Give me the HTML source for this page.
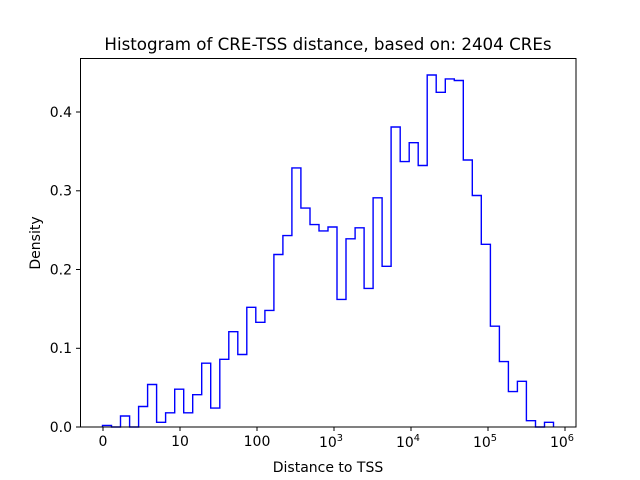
<!DOCTYPE html>
<html><head><meta charset="utf-8"><style>body{margin:0;background:#fff}svg{display:block}text{font-family:"DejaVu Sans","Liberation Sans",sans-serif;fill:#000}</style></head>
<body>
<svg width="640" height="480" viewBox="0 0 640 480" xmlns="http://www.w3.org/2000/svg">
<rect width="640" height="480" fill="#fff"/>
<path d="M102.5 427 V425.4 H111.5 V427 H120.5 V416 H129.6 V427 H138.6 V406.5 H147.6 V384.5 H156.6 V422.3 H165.6 V412.8 H174.7 V389.2 H183.7 V412.8 H192.7 V394.7 H201.7 V363.2 H210.7 V408.1 H219.8 V359.3 H228.8 V331.7 H237.8 V354.5 H246.8 V307.3 H255.8 V322.3 H264.9 V310.4 H273.9 V254.5 H282.9 V235.6 H291.9 V167.9 H300.9 V208.1 H310 V224.6 H319 V230.9 H328 V227 H337 V299.4 H346 V238.8 H355.1 V227.8 H364.1 V288.4 H373.1 V197.8 H382.1 V266.3 H391.1 V127 H400.2 V161.6 H409.2 V142.7 H418.2 V165.5 H427.2 V75 H436.2 V92.3 H445.3 V78.9 H454.3 V80.5 H463.3 V160 H472.3 V195.5 H481.3 V244.3 H490.4 V326.2 H499.4 V361.6 H508.4 V391.6 H517.4 V381.3 H526.4 V420.7 H535.5 V427 H544.5 V422.3 H553.5 V427" fill="none" stroke="#0000ff" stroke-width="1.4"/>
<rect x="80.5" y="58.5" width="495.5" height="368.5" fill="none" stroke="#000" stroke-width="1"/>
<g stroke="#000" stroke-width="1">
<line x1="103" y1="427" x2="103" y2="431"/><line x1="180" y1="427" x2="180" y2="431"/><line x1="257" y1="427" x2="257" y2="431"/><line x1="334" y1="427" x2="334" y2="431"/><line x1="411" y1="427" x2="411" y2="431"/><line x1="488" y1="427" x2="488" y2="431"/><line x1="565" y1="427" x2="565" y2="431"/>
<line x1="76" y1="427" x2="80" y2="427"/><line x1="76" y1="348.3" x2="80" y2="348.3"/><line x1="76" y1="269.5" x2="80" y2="269.5"/><line x1="76" y1="190.8" x2="80" y2="190.8"/><line x1="76" y1="112" x2="80" y2="112"/>
</g>
<g font-size="14" text-anchor="middle">
<text x="103" y="446">0</text><text x="180" y="446">10</text><text x="257" y="446">100</text>
<text x="331" y="447">10<tspan font-size="9.8" dy="-6">3</tspan></text>
<text x="408" y="447">10<tspan font-size="9.8" dy="-6">4</tspan></text>
<text x="485" y="447">10<tspan font-size="9.8" dy="-6">5</tspan></text>
<text x="562" y="447">10<tspan font-size="9.8" dy="-6">6</tspan></text>
</g>
<g font-size="14" text-anchor="end">
<text x="72" y="432">0.0</text><text x="72" y="353">0.1</text><text x="72" y="274.5">0.2</text><text x="72" y="195.5">0.3</text><text x="72" y="117">0.4</text>
</g>
<text x="328" y="472" font-size="14" text-anchor="middle">Distance to TSS</text>
<text transform="translate(40,243) rotate(-90)" font-size="14" text-anchor="middle">Density</text>
<text x="328" y="50" font-size="16.7" text-anchor="middle">Histogram of CRE-TSS distance, based on: 2404 CREs</text>
</svg>
</body></html>
